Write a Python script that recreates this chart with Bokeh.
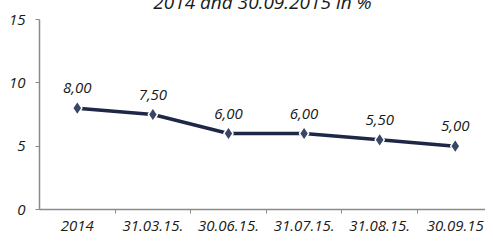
from bokeh.plotting import figure
from bokeh.models import ColumnDataSource, FixedTicker, LabelSet, Title, Range1d
from bokeh.core.properties import value
from bokeh.embed import file_html
from bokeh.resources import INLINE

categories = ["2014", "31.03.15.", "30.06.15.", "31.07.15.", "31.08.15.", "30.09.15"]
values = [8.00, 7.50, 6.00, 6.00, 5.50, 5.00]
value_labels = ["8,00", "7,50", "6,00", "6,00", "5,50", "5,00"]
y_ticks = [0, 5, 10, 15]
title_text = "2014 and 30.09.2015 in %"

FONT = "Open Sans"
TXT = "#1a1a1a"

xs = [i + 0.5 for i in range(len(categories))]
src = ColumnDataSource(dict(x=xs, y=values, lab=value_labels))

p = figure(width=485, height=251, output_backend="svg", toolbar_location=None,
           x_range=Range1d(0, 5.9), y_range=Range1d(0, 15),
           min_border_left=39, min_border_right=0, min_border_top=24, min_border_bottom=22)
p.styles = {"margin-top": "-18px"}
p.outline_line_color = None
p.grid.grid_line_color = None
p.background_fill_color = "white"
p.border_fill_color = "white"

p.line("x", "y", source=src, line_color="#1e2745", line_width=3.5)
p.scatter("x", "y", source=src, marker="diamond", size=14, fill_color="#3a4668",
          line_color="white", line_width=1.5)

labels = LabelSet(x="x", y="y", text="lab", source=src, text_align="center",
                  text_baseline="middle", y_offset=20, text_font=value(FONT),
                  text_font_style="italic", text_font_size="15px", text_color=TXT)
p.add_layout(labels)

p.add_layout(Title(text=title_text, align="center", offset=-19, standoff=9,
                   text_font=FONT, text_font_style="italic", text_font_size="19px",
                   text_color=TXT), "above")

# y axis
ya = p.yaxis[0]
ya.ticker = FixedTicker(ticks=y_ticks)
ya.axis_line_color = "#8a8a8a"
ya.axis_line_width = 1.5
ya.major_tick_line_color = "#8a8a8a"
ya.major_tick_out = 4
ya.major_tick_in = 0
ya.minor_tick_line_color = None
ya.major_label_text_font = FONT
ya.major_label_text_font_style = "italic"
ya.major_label_text_font_size = "15px"
ya.major_label_text_color = TXT
ya.major_label_standoff = 10

# x axis
xa = p.xaxis[0]
xa.ticker = FixedTicker(ticks=xs, minor_ticks=[1, 2, 3, 4, 5])
xa.major_label_overrides = {x: c for x, c in zip(xs, categories)}
xa.axis_line_color = "#8a8a8a"
xa.axis_line_width = 1.5
xa.major_tick_line_color = None
xa.major_tick_out = 0
xa.major_tick_in = 0
xa.minor_tick_line_color = "#8a8a8a"
xa.minor_tick_out = 4
xa.minor_tick_in = 0
xa.major_label_text_font = FONT
xa.major_label_text_font_style = "italic"
xa.major_label_text_font_size = "15px"
xa.major_label_text_color = TXT
xa.major_label_standoff = 7

open("out.html", "w").write(file_html(p, INLINE))
